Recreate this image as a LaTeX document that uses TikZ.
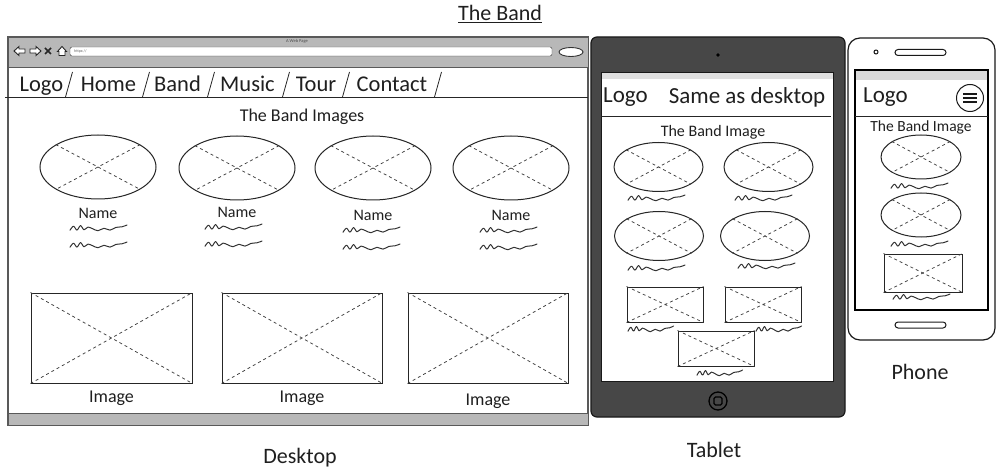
\documentclass[tikz,border=0pt]{standalone}
\usepackage{fontspec}
\setmainfont{Carlito}
\usetikzlibrary{shapes.geometric}
\tikzset{
  txt/.style={inner sep=0pt, text=black!88},
  navtxt/.style={txt, anchor=base, font=\fontsize{22.5}{22.5}\selectfont},
  pic ellipse/.style={draw=black!85, ellipse, line width=1pt, inner sep=0pt},
  pic box/.style={draw=black!85, rectangle, line width=1pt, inner sep=0pt},
  xline/.style={dashed, dash pattern=on 3pt off 3pt, black!75, line width=0.75pt},
  navslash/.style={black!85, line width=0.8pt},
  bar/.style={fill=black!28, draw=black!65, line width=0.9pt},
  % hand-drawn text placeholder, about 60 units long
  squiggle/.pic={
    \draw[black!80, line width=1pt, line cap=round, line join=round, yscale=1.5]
      plot[smooth, tension=0.55] coordinates {
        (0,1.5) (3.5,-1.2) (7,1.4) (10.5,-1.6) (14,1.2) (18,-0.6)
        (23,0.6) (28,1.8) (34,0.2) (40,1.4) (46,-0.4) (52,-0.8) (57,-2)};
  },
}
\newcommand{\fs}[1]{\fontsize{#1}{#1}\selectfont}
\begin{document}
\begin{tikzpicture}[x=1pt,y=-1pt]
\useasboundingbox (0,0) rectangle (1000,470);

% heading
\node[txt] (title) at (500,14) {\fs{22}\underline{The Band}};

% ---------------- desktop browser ----------------
\draw[fill=white, draw=black!65, line width=1.2pt] (8,37) rectangle (588,425);
\draw[bar] (8,37) rectangle (588,67);
\draw[bar] (8,413) rectangle (588,425);
\node[txt, text=black!70] (pagetitle) at (297,41) {\fs{4.5}A Web Page};
\draw[fill=white, draw=black!80, rounded corners=2] (70,47) rectangle (552,56);
\node[txt, anchor=west, text=black!60] (url) at (74,51.5) {\fs{4}https://};
\draw[fill=white, draw=black!80, line width=0.9pt] (571,52) ellipse (12 and 4.5);
% toolbar icons
\draw[fill=white, draw=black!85, line width=0.9pt] (14,51) -- (19,46.5) -- (19,49) -- (25,49) -- (25,53) -- (19,53) -- (19,55.5) -- cycle;
\draw[fill=white, draw=black!85, line width=0.9pt] (41,51) -- (36,46.5) -- (36,49) -- (30,49) -- (30,53) -- (36,53) -- (36,55.5) -- cycle;
\draw[black!85, line width=1.6pt] (45,48) -- (51,54) (45,54) -- (51,48);
\draw[fill=white, draw=black!85, line width=0.9pt] (57.5,51.5) -- (62,46.5) -- (66.5,51.5) -- (65,51.5) -- (65,55.5) -- (59,55.5) -- (59,51.5) -- cycle;

% navigation row, all words on one baseline
\node[navtxt] (nlogo) at (41.5,92) {Logo};
\node[navtxt] (nhome) at (108.5,92) {Home};
\node[navtxt] (nband) at (177.5,92) {Band};
\node[navtxt] (nmusic) at (247.5,92) {Music};
\node[navtxt] (ntour) at (316,92) {Tour};
\node[navtxt] (ncontact) at (392,92) {Contact};
\foreach \sx in {69,146,211,286,346,438}
  \draw[navslash] (\sx+3.5,72) -- (\sx-3.5,97);
\draw[black!85, line width=0.9pt] (5,97) -- (588,97);

\node[txt] (dhead) at (302,117) {\fs{18}The Band Images};

% band member portraits
\foreach \i/\cx/\cy/\ny/\sl in {1/98/167/213/70, 2/237/168/212/205, 3/373/168/215/343, 4/511/168/215/480}{
  \node[pic ellipse, minimum width=116pt, minimum height=64pt] (de\i) at (\cx,\cy) {};
  \draw[xline] (de\i.28) -- (de\i.208) (de\i.152) -- (de\i.332);
  \node[txt] (dn\i) at (\cx,\ny) {\fs{16}Name};
  \pic at (\sl,\ny+15) {squiggle};
  \pic at (\sl,\ny+32) {squiggle};
}

% large images
\foreach \i/\xa/\xb/\ly in {1/31/192/398, 2/222/382/398, 3/408/568/401}{
  \node[pic box, minimum width={\xb-\xa}, minimum height=90pt] (di\i) at ({(\xa+\xb)/2},338) {};
  \draw[xline] (di\i.north west) -- (di\i.south east) (di\i.south west) -- (di\i.north east);
  \node[txt] (dl\i) at ({(\xa+\xb)/2},\ly) {\fs{18}Image};
}
\node[txt] (desktop) at (300,458) {\fs{22}Desktop};

% ---------------- tablet ----------------
\draw[fill=black!72, draw=black!90, rounded corners=6, line width=1.2pt] (591,37) rectangle (845,417);
\draw[fill=white, draw=black!90, line width=1pt] (601,73) rectangle (833,381);
\fill[black!12] (601.5,73.5) rectangle (832.5,79);
\fill[black] (718,55) circle (1.8);
\draw[black, line width=1.3pt] (718,401) circle (9);
\draw[black, rounded corners=1.5, line width=1.2pt] (714,397) rectangle (722,405);

\node[txt] (tlogo) at (625.5,97) {\fs{23}Logo};
\node[txt] (tsame) at (747,97) {\fs{23}Same as desktop};
\draw[black!85, line width=0.9pt] (601,116) -- (831,116);
\node[txt] (thead) at (713,132) {\fs{16}The Band Image};

\foreach \i/\cx/\cy in {1/658.5/167, 2/768.5/167, 3/659/236, 4/765/236}{
  \node[pic ellipse, minimum width=89pt, minimum height=49pt] (te\i) at (\cx,\cy) {};
  \draw[xline] (te\i.28) -- (te\i.208) (te\i.152) -- (te\i.332);
}
\pic at (628,198) {squiggle};
\pic at (735,198) {squiggle};
\pic at (628,268) {squiggle};
\pic at (738,266) {squiggle};

\foreach \i/\xa/\ya in {1/627/287, 2/725/287, 3/678/331}{
  \node[pic box, minimum width=76pt, minimum height=35pt] (tb\i) at (\xa+38,\ya+17.5) {};
  \draw[xline] (tb\i.north west) -- (tb\i.south east) (tb\i.south west) -- (tb\i.north east);
}
\pic[xscale=0.8] at (628,329) {squiggle};
\pic[xscale=0.8] at (756,329) {squiggle};
\pic[xscale=0.8] at (697,373) {squiggle};
\node[txt] (tablet) at (714,450) {\fs{22}Tablet};

% ---------------- phone ----------------
\draw[fill=white, draw=black!90, rounded corners=12, line width=1.2pt] (848,38) rectangle (995,340);
\draw[fill=white, draw=black, line width=2pt] (855,70) rectangle (988,310);
\fill[black!15] (856,71) rectangle (987,80);
\draw[black!90, line width=1pt] (876,52) circle (2);
\draw[black!90, line width=1pt, rounded corners=3] (895,49.5) rectangle (946,55.5);
\draw[black!90, line width=1pt, rounded corners=3] (895,322) rectangle (946,328);

\node[txt] (plogo) at (885.5,97) {\fs{23}Logo};
\node[draw=black!90, circle, line width=1pt, minimum size=27pt, inner sep=0pt] (menu) at (970,98) {};
\foreach \dy in {-4,0,4}
  \draw[black!90, line width=1.1pt] ([xshift=-7pt, yshift=\dy pt]menu.center) -- ([xshift=7pt, yshift=\dy pt]menu.center);
\draw[black!85, line width=0.9pt] (855,116) -- (988,116);
\node[txt] (phead) at (921,127) {\fs{15.5}The Band Image};

\foreach \i/\cy in {1/157, 2/215}{
  \node[pic ellipse, minimum width=80pt, minimum height=44pt] (pe\i) at (921,\cy) {};
  \draw[xline] (pe\i.28) -- (pe\i.208) (pe\i.152) -- (pe\i.332);
}
\pic at (891,186) {squiggle};
\pic at (891,244) {squiggle};
\node[pic box, minimum width=78pt, minimum height=38pt] (pb) at (923,273) {};
\draw[xline] (pb.north west) -- (pb.south east) (pb.south west) -- (pb.north east);
\pic at (893,297) {squiggle};
\node[txt] (phone) at (920,372) {\fs{22}Phone};
\end{tikzpicture}
\end{document}
